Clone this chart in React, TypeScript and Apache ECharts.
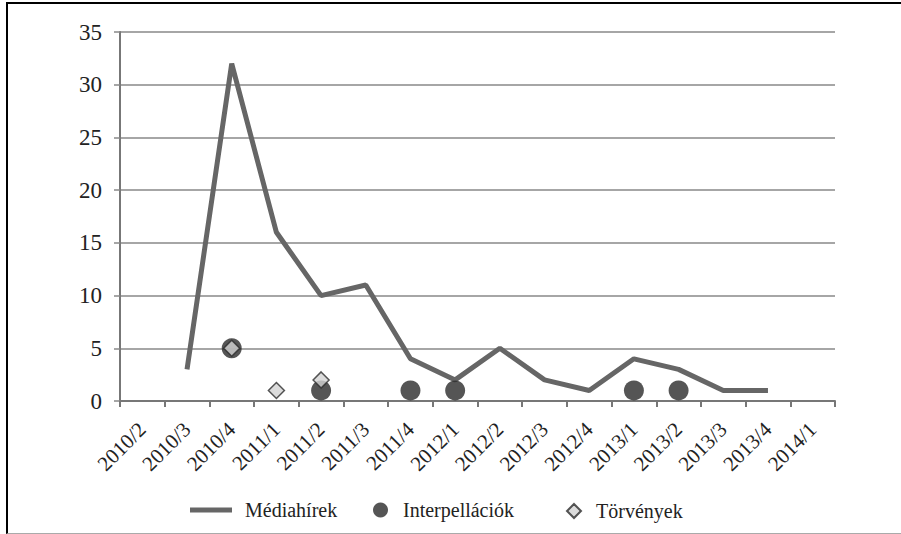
import React, { useEffect, useRef } from "react";
import * as echarts from "echarts";

const categories = [
  "2010/2", "2010/3", "2010/4", "2011/1", "2011/2", "2011/3", "2011/4", "2012/1",
  "2012/2", "2012/3", "2012/4", "2013/1", "2013/2", "2013/3", "2013/4", "2014/1",
];
const mediahirek = ["-", 3, 32, 16, 10, 11, 4, 2, 5, 2, 1, 4, 3, 1, 1, "-"];
const interpellaciok = ["-", "-", 5, "-", 1, "-", 1, 1, "-", "-", "-", 1, 1, "-", "-", "-"];
const torvenyek = ["-", "-", 5, 1, 2, "-", "-", "-", "-", "-", "-", "-", "-", "-", "-", "-"];
const seriesNames = ["Médiahírek", "Interpellációk", "Törvények"];

const FONT = "'Liberation Serif', 'DejaVu Serif', serif";

const legendText = (pad: number) => ({
  fontFamily: FONT,
  fontSize: 20,
  color: "#222",
  rich: { a: { fontFamily: FONT, fontSize: 20, color: "#222", padding: [0, 0, 0, pad] } },
});

export default function App() {
  const ref = useRef<HTMLDivElement>(null);
  useEffect(() => {
    if (!ref.current) return;
    const chart = echarts.init(ref.current, null, { renderer: "svg" });
    chart.setOption({
      animation: false,
      backgroundColor: "transparent",
      textStyle: { fontFamily: FONT, color: "#222" },
      grid: { left: 120, right: 66, top: 32, bottom: 133, containLabel: false, outerBoundsMode: "none" },
      xAxis: {
        type: "category",
        data: categories,
        boundaryGap: true,
        axisLine: { show: true, lineStyle: { color: "#777", width: 2 } },
        axisTick: { show: true, length: 6, interval: 0, lineStyle: { color: "#777", width: 2 } },
        axisLabel: {
          interval: 0,
          rotate: 45,
          margin: 25,
          fontSize: 21,
          fontFamily: FONT,
          color: "#222",
        },
        splitLine: { show: false },
      },
      yAxis: {
        type: "value",
        min: 0,
        max: 35,
        interval: 5,
        axisLine: { show: true, lineStyle: { color: "#777", width: 2 } },
        axisTick: { show: true, length: 6, lineStyle: { color: "#888", width: 1.5 } },
        axisLabel: { margin: 18, fontSize: 23, fontFamily: FONT, color: "#222" },
        splitLine: { show: true, lineStyle: { color: "#888", width: 1.5 } },
      },
      legend: [
        {
          data: [{ name: seriesNames[0], icon: "rect", itemStyle: { color: "#666" } }],
          left: 190,
          top: 500,
          padding: 0,
          itemWidth: 42,
          itemHeight: 5,
          formatter: "{a|{name}}",
          textStyle: legendText(8),
        },
        {
          data: [{ name: seriesNames[1], icon: "circle" }],
          left: 373,
          top: 500,
          padding: 0,
          itemWidth: 15,
          itemHeight: 15,
          formatter: "{a|{name}}",
          textStyle: legendText(10),
        },
        {
          data: [{ name: seriesNames[2], icon: "diamond" }],
          left: 566,
          top: 501,
          padding: 0,
          itemWidth: 14,
          itemHeight: 14,
          formatter: "{a|{name}}",
          textStyle: legendText(10),
        },
      ],
      series: [
        {
          name: seriesNames[0],
          type: "line",
          data: mediahirek,
          symbol: "none",
          color: "#666",
          lineStyle: { color: "#666", width: 5 },
          z: 2,
        },
        {
          name: seriesNames[1],
          type: "scatter",
          data: interpellaciok,
          symbol: "circle",
          symbolSize: 20,
          itemStyle: { color: "#2a2a2a" },
          z: 3,
        },
        {
          name: seriesNames[2],
          type: "scatter",
          data: torvenyek,
          symbol: "diamond",
          symbolSize: 16,
          itemStyle: { color: "#d3d3d3", borderColor: "#2a2a2a", borderWidth: 1.5 },
          z: 4,
        },
      ],
    });
    return () => chart.dispose();
  }, []);

  return (
    <div style={{ position: "fixed", left: 0, top: 0, width: 901, height: 534, background: "#fff" }}>
      <div
        style={{
          position: "absolute",
          left: 6,
          top: 2,
          width: 901 - 6 - 2,
          height: 534 - 2 - 3,
          borderLeft: "2px solid #000",
          borderTop: "2px solid #000",
          borderBottom: "1px solid #aaa",
        }}
      />
      <div ref={ref} style={{ position: "absolute", left: 0, top: 0, width: 901, height: 534 }} />
    </div>
  );
}
